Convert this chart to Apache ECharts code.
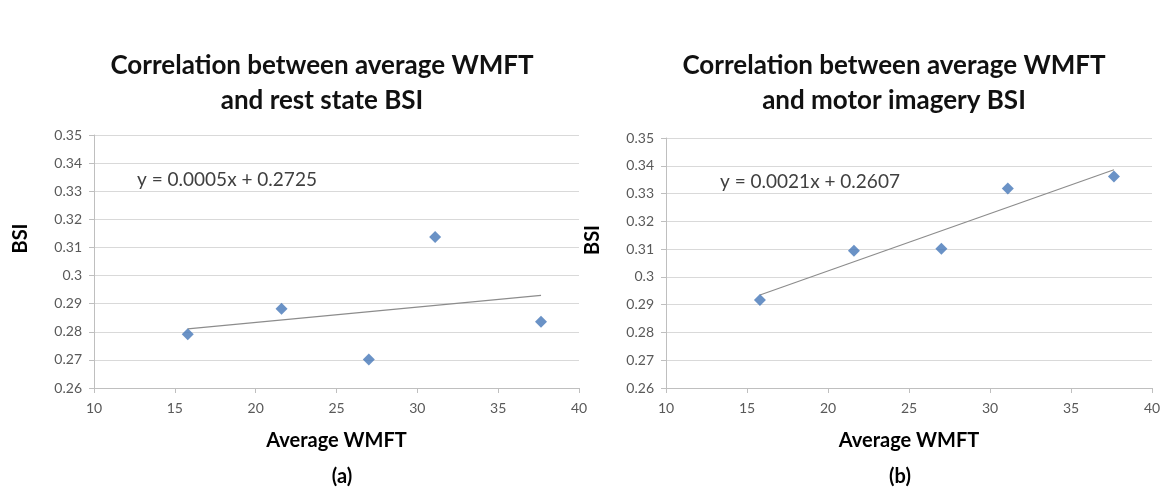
<!DOCTYPE html>
<html>
<head>
<meta charset="utf-8">
<script src="https://cdn.jsdelivr.net/npm/echarts@6/dist/echarts.min.js"></script>
<style>
  html, body { margin: 0; padding: 0; background: #ffffff; }
  #chart { width: 1164px; height: 489px; }
</style>
</head>
<body>
<div id="chart"></div>
<script>
// ---- data ----
const wmft = [15.8, 21.6, 27.0, 31.1, 37.65];
const restBSI = [0.2791, 0.2882, 0.2701, 0.3137, 0.2836];
const motorBSI = [0.2917, 0.3094, 0.3101, 0.3318, 0.3361];
const xTicks = [10, 15, 20, 25, 30, 35, 40];
const yTicks = [0.26, 0.27, 0.28, 0.29, 0.30, 0.31, 0.32, 0.33, 0.34, 0.35];
const titles = [
  'Correlation between average WMFT\nand rest state BSI',
  'Correlation between average WMFT\nand motor imagery BSI'
];
const equations = ['y = 0.0005x + 0.2725', 'y = 0.0021x + 0.2607'];
const panelLabels = ['(a)', '(b)'];
const xName = 'Average WMFT';
const yName = 'BSI';

// least-squares trend line (Excel linear trendline) over the data range
function trend(xs, ys) {
  const n = xs.length;
  const mx = xs.reduce((a, b) => a + b, 0) / n;
  const my = ys.reduce((a, b) => a + b, 0) / n;
  let sxy = 0, sxx = 0;
  for (let i = 0; i < n; i++) { sxy += (xs[i] - mx) * (ys[i] - my); sxx += (xs[i] - mx) ** 2; }
  const b = sxy / sxx, a = my - b * mx;
  const x0 = Math.min(...xs), x1 = Math.max(...xs);
  return [[x0, a + b * x0], [x1, a + b * x1]];
}

const FONT = 'Lato, "Liberation Sans", sans-serif';
const chart = echarts.init(document.getElementById('chart'), null, { renderer: 'canvas' });

function xAxisCfg(gi) {
  return {
    gridIndex: gi, type: 'value',
    min: xTicks[0], max: xTicks[xTicks.length - 1], interval: xTicks[1] - xTicks[0],
    name: xName, nameLocation: 'middle', nameGap: 43,
    nameTextStyle: { fontFamily: FONT, fontWeight: 'bold', fontSize: 20, color: '#000000' },
    axisLine: { show: true, lineStyle: { color: '#bfbfbf', width: 1 } },
    axisTick: { show: true, inside: false, length: 5, lineStyle: { color: '#bfbfbf' } },
    axisLabel: { fontFamily: FONT, fontSize: 14, color: '#595959', margin: 13 },
    splitLine: { show: false }
  };
}
function yAxisCfg(gi) {
  return {
    gridIndex: gi, type: 'value',
    min: yTicks[0], max: yTicks[yTicks.length - 1],
    interval: Math.round((yTicks[1] - yTicks[0]) * 1000) / 1000,
    name: yName, nameLocation: 'middle', nameGap: 63, nameRotate: 90,
    nameTextStyle: { fontFamily: FONT, fontWeight: 'bold', fontSize: 20, color: '#000000', padding: [0, 0, 0, 46] },
    axisLine: { show: true, lineStyle: { color: '#bfbfbf', width: 1 } },
    axisTick: { show: true, inside: false, length: 5, lineStyle: { color: '#bfbfbf' } },
    axisLabel: {
      fontFamily: FONT, fontSize: 14, color: '#595959', margin: 12,
      formatter: v => String(Math.round(v * 100) / 100)
    },
    splitLine: { show: true, lineStyle: { color: '#d9d9d9', width: 1 } }
  };
}

const seriesData = [restBSI, motorBSI];
const series = [];
seriesData.forEach((ys, i) => {
  series.push({
    type: 'line', xAxisIndex: i, yAxisIndex: i,
    data: trend(wmft, ys), symbol: 'none', silent: true,
    lineStyle: { color: '#8c8c8c', width: 1.2 }, z: 2
  });
  series.push({
    type: 'scatter', xAxisIndex: i, yAxisIndex: i,
    data: wmft.map((x, k) => [x, ys[k]]),
    symbol: 'diamond', symbolSize: 12,
    itemStyle: { color: '#4577b8' }, z: 3
  });
});

const titleCenters = [322, 894];
const eqPos = [[137, 180], [720, 182]];
const panelCenters = [342, 900];
const graphic = [];
titles.forEach((t, i) => {
  graphic.push({
    type: 'text', x: titleCenters[i], y: 48,
    style: { text: t, fontFamily: FONT, fontWeight: 'bold', fontSize: 26, lineHeight: 35,
      fill: '#111111', align: 'center', verticalAlign: 'top' }
  });
  graphic.push({
    type: 'text', x: eqPos[i][0], y: eqPos[i][1],
    style: { text: equations[i], fontFamily: FONT, fontSize: 19, fill: '#404040',
      align: 'left', verticalAlign: 'middle' }
  });
  graphic.push({
    type: 'text', x: panelCenters[i], y: 477,
    style: { text: panelLabels[i], fontFamily: FONT, fontWeight: 'bold', fontSize: 20, fill: '#000000',
      align: 'center', verticalAlign: 'middle' }
  });
});

chart.setOption({
  backgroundColor: '#ffffff',
  animation: false,
  grid: [
    { left: 94, right: 1164 - 579, top: 135, bottom: 489 - 388 },
    { left: 666, right: 1164 - 1152, top: 138, bottom: 489 - 388 }
  ],
  xAxis: [xAxisCfg(0), xAxisCfg(1)],
  yAxis: [yAxisCfg(0), yAxisCfg(1)],
  series: series,
  graphic: graphic
});
</script>
</body>
</html>
